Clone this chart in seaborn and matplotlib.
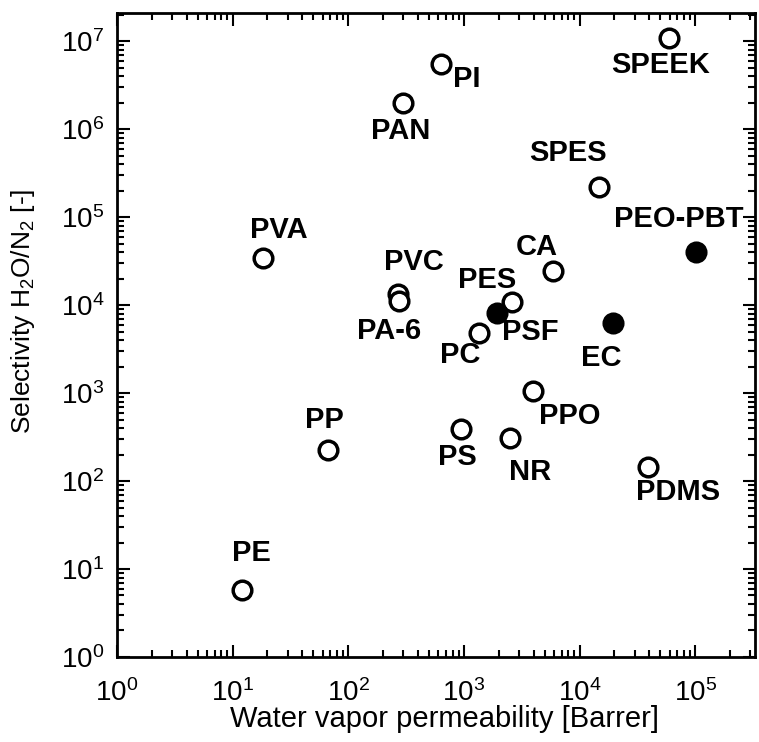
import seaborn as sns
import matplotlib.pyplot as plt
import pandas as pd
from matplotlib.ticker import NullFormatter

# polymer data: water vapour permeability vs H2O/N2 selectivity
names = ["PE", "PP", "PVA", "PVC", "PA-6", "PI", "PAN", "SPEEK", "SPES",
         "PEO-PBT", "CA", "PES", "PSF", "PC", "EC", "PPO", "PS", "NR", "PDMS"]
permeability = [12, 67, 18.5, 271, 275, 630, 300, 59000, 14600,
                101000, 5950, 2630, 1950, 1360, 19300, 3920, 950, 2480, 38800]
selectivity = [5.7, 223, 34500, 13300, 11300, 5.5e6, 1.97e6, 1.08e7, 2.23e5,
               40400, 24500, 10900, 8150, 4820, 6270, 1050, 388, 306, 143]
filled = [False, False, False, False, False, False, False, False, False,
          True, False, False, True, False, True, False, False, False, False]
# label offsets in points (dx, dy), dy positive = up
label_dx = [7, -3, 11, 11, -7, 19, -2, -6, -22, -12, -12, -18, 24, -14, -8, 27, -3, 15, 22]
label_dy = [27, 22, 20, 23, -22, -11, -20, -19, 24, 24, 17, 16, -14, -16, -25, -18, -20, -24, -18]

df = pd.DataFrame({"name": names, "perm": permeability, "sel": selectivity, "filled": filled})

sns.set_style("ticks", {"axes.edgecolor": "black", "xtick.color": "black",
                        "ytick.color": "black", "text.color": "black",
                        "axes.labelcolor": "black"})
plt.rcParams['font.family'] = ['Liberation Sans', 'DejaVu Sans']
plt.rcParams['mathtext.fontset'] = 'custom'
plt.rcParams['mathtext.rm'] = 'Liberation Sans'
plt.rcParams['mathtext.it'] = 'Liberation Sans'

fig = plt.figure(figsize=(7.59, 7.42), dpi=100)
ax = fig.add_axes([0.154, 0.1146, 0.841, 0.8679])

# open circles, then the filled ones
sns.scatterplot(data=df[~df["filled"]], x="perm", y="sel", ax=ax, s=180,
                facecolor="white", edgecolor="black", linewidth=2.5, zorder=3)
sns.scatterplot(data=df[df["filled"]], x="perm", y="sel", ax=ax, s=180,
                color="black", edgecolor="black", linewidth=2.5, zorder=3)

for i, row in df.iterrows():
    ax.annotate(row["name"], (row["perm"], row["sel"]), xytext=(label_dx[i], label_dy[i]),
                textcoords="offset points", ha="center", va="center",
                fontsize=21, fontweight="bold", color="black", zorder=4)

ax.set_xscale("log")
ax.set_yscale("log")
ax.set_xlim(1, 3.3e5)
ax.set_ylim(1, 2.1e7)
ax.xaxis.set_minor_formatter(NullFormatter())
ax.yaxis.set_minor_formatter(NullFormatter())

ax.set_xlabel("Water vapor permeability [Barrer]", fontsize=21)
ax.xaxis.set_label_coords(0.5125, -0.074)
ax.set_ylabel("Selectivity H$_2$O/N$_2$ [-]", fontsize=19)
ax.yaxis.set_label_coords(-0.125, 0.537)

for side in ["top", "bottom", "left", "right"]:
    ax.spines[side].set_linewidth(2)
ax.tick_params(which="both", direction="in", top=True, right=True, width=1.5)
ax.tick_params(which="major", length=9, labelsize=20)
ax.tick_params(axis="x", which="major", pad=16)
ax.tick_params(axis="y", which="major", pad=9)
ax.tick_params(which="minor", length=5)

fig.savefig("out.png", dpi=100)
